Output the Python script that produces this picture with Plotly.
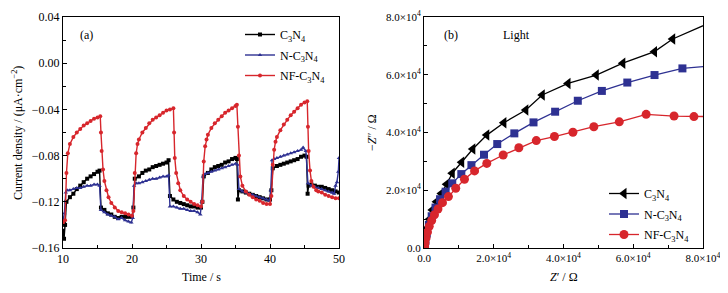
import plotly.graph_objects as go

# ---------------- Panel (a): transient photocurrent ----------------
t_c3n4 = [10.0, 10.15, 10.3, 10.5, 11.0, 11.5, 12.0, 12.5, 13.0, 13.5, 14.0, 14.5, 15.0, 15.3,
          15.5, 16.0, 16.5, 17.0, 17.5, 18.0, 18.5, 19.0, 19.5, 20.0, 20.2, 20.4,
          21.0, 21.5, 22.0, 22.5, 23.0, 23.5, 24.0, 24.5, 25.0, 25.3,
          25.5, 26.0, 26.5, 27.0, 27.5, 28.0, 28.5, 29.0, 29.5, 30.0, 30.2, 30.4,
          31.0, 31.5, 32.0, 32.5, 33.0, 33.5, 34.0, 34.5, 35.0, 35.2,
          35.35, 35.5, 36.0, 36.5, 37.0, 37.5, 38.0, 38.5, 39.0, 39.5, 40.0, 40.2, 40.4,
          41.0, 41.5, 42.0, 42.5, 43.0, 43.5, 44.0, 44.5, 45.0, 45.3,
          45.45, 45.6, 46.0, 46.5, 47.0, 47.5, 48.0, 48.5, 49.0, 49.5, 50.0]
j_c3n4 = [-0.145, -0.152, -0.140, -0.120, -0.116, -0.113, -0.109, -0.106, -0.103, -0.100, -0.098, -0.096, -0.094, -0.093,
          -0.125, -0.127, -0.130, -0.131, -0.133, -0.134, -0.133, -0.133, -0.133, -0.133, -0.125, -0.100,
          -0.098, -0.095, -0.093, -0.092, -0.090, -0.089, -0.088, -0.087, -0.086, -0.084,
          -0.115, -0.118, -0.120, -0.121, -0.122, -0.123, -0.124, -0.124, -0.125, -0.125, -0.120, -0.098,
          -0.095, -0.092, -0.090, -0.089, -0.088, -0.086, -0.085, -0.083, -0.082, -0.083,
          -0.118, -0.110, -0.111, -0.112, -0.113, -0.114, -0.115, -0.116, -0.117, -0.118, -0.118, -0.110, -0.091,
          -0.089, -0.088, -0.087, -0.086, -0.085, -0.084, -0.083, -0.081, -0.080, -0.081,
          -0.113, -0.106, -0.105, -0.106, -0.107, -0.107, -0.108, -0.109, -0.110, -0.111, -0.112]

t_nc3n4 = [10.0, 10.2, 10.4, 10.6, 11.0, 11.5, 12.0, 12.5, 13.0, 13.5, 14.0, 14.5, 15.0, 15.3,
           15.5, 16.0, 16.5, 17.0, 17.5, 18.0, 18.5, 19.0, 19.5, 19.9, 20.1, 20.3,
           20.6, 21.0, 21.5, 22.0, 22.5, 23.0, 23.5, 24.0, 24.5, 25.0, 25.3,
           25.5, 26.0, 26.5, 27.0, 27.5, 28.0, 28.5, 29.0, 29.5, 29.9, 30.1, 30.3,
           30.6, 31.0, 31.5, 32.0, 32.5, 33.0, 33.5, 34.0, 34.5, 35.0, 35.3,
           35.5, 36.0, 36.5, 37.0, 37.5, 38.0, 38.5, 39.0, 39.5, 39.9, 40.1, 40.3,
           40.6, 41.0, 41.5, 42.0, 42.5, 43.0, 43.5, 44.0, 44.5, 44.8, 45.2,
           45.5, 46.0, 46.5, 47.0, 47.5, 48.0, 48.5, 49.0, 49.3, 49.5, 49.7, 49.9, 50.0]
j_nc3n4 = [-0.136, -0.130, -0.112, -0.110, -0.110, -0.109, -0.108, -0.108, -0.107, -0.106, -0.106, -0.105, -0.105, -0.106,
           -0.127, -0.129, -0.131, -0.132, -0.133, -0.135, -0.134, -0.136, -0.137, -0.138, -0.134, -0.106,
           -0.104, -0.104, -0.103, -0.102, -0.101, -0.100, -0.100, -0.099, -0.098, -0.098, -0.097,
           -0.124, -0.124, -0.125, -0.126, -0.126, -0.127, -0.128, -0.128, -0.129, -0.131, -0.120, -0.098,
           -0.096, -0.095, -0.094, -0.093, -0.092, -0.091, -0.090, -0.089, -0.088, -0.087, -0.088,
           -0.109, -0.111, -0.112, -0.113, -0.114, -0.115, -0.116, -0.117, -0.118, -0.119, -0.110, -0.084,
           -0.083, -0.082, -0.081, -0.080, -0.079, -0.078, -0.077, -0.076, -0.075, -0.073, -0.076,
           -0.104, -0.106, -0.107, -0.108, -0.109, -0.110, -0.111, -0.112, -0.113, -0.106, -0.103, -0.094, -0.082]

t_nfc3n4 = [10.0, 10.3, 10.5, 10.7, 11.0, 11.5, 12.0, 12.5, 13.0, 13.5, 14.0, 14.5, 15.0, 15.4,
            15.5, 15.6, 15.8, 16.0, 16.3, 16.6, 17.0, 17.5, 18.0, 18.5, 19.0, 19.5, 20.0, 20.2, 20.4,
            20.6, 20.8, 21.0, 21.5, 22.0, 22.5, 23.0, 23.5, 24.0, 24.5, 25.0, 25.5, 26.0,
            26.1, 26.2, 26.4, 26.7, 27.0, 27.5, 28.0, 28.5, 29.0, 29.5, 30.0, 30.2, 30.4,
            30.6, 30.8, 31.0, 31.5, 32.0, 32.5, 33.0, 33.5, 34.0, 34.5, 35.0, 35.2,
            35.35, 35.5, 35.7, 36.0, 36.5, 37.0, 37.5, 38.0, 38.5, 39.0, 39.5, 40.0, 40.2, 40.4,
            40.6, 40.8, 41.0, 41.5, 42.0, 42.5, 43.0, 43.5, 44.0, 44.5, 45.0, 45.4,
            45.5, 45.6, 45.8, 46.0, 46.3, 46.7, 47.0, 47.5, 48.0, 48.5, 49.0, 49.5, 50.0]
j_nfc3n4 = [-0.138, -0.136, -0.095, -0.078, -0.070, -0.064, -0.060, -0.057, -0.054, -0.052, -0.050, -0.048, -0.047, -0.046,
            -0.060, -0.076, -0.092, -0.102, -0.110, -0.116, -0.121, -0.125, -0.128, -0.129, -0.130, -0.131, -0.132, -0.128, -0.095,
            -0.078, -0.070, -0.066, -0.060, -0.056, -0.052, -0.049, -0.047, -0.045, -0.043, -0.041, -0.040, -0.039,
            -0.060, -0.082, -0.095, -0.104, -0.110, -0.115, -0.118, -0.120, -0.122, -0.123, -0.124, -0.120, -0.085,
            -0.072, -0.066, -0.062, -0.056, -0.052, -0.049, -0.046, -0.043, -0.041, -0.039, -0.037, -0.036,
            -0.055, -0.080, -0.098, -0.106, -0.111, -0.114, -0.116, -0.118, -0.119, -0.121, -0.122, -0.122, -0.115, -0.088,
            -0.075, -0.068, -0.064, -0.058, -0.053, -0.049, -0.045, -0.042, -0.039, -0.036, -0.034, -0.033,
            -0.055, -0.076, -0.093, -0.102, -0.107, -0.110, -0.111, -0.112, -0.114, -0.115, -0.116, -0.117, -0.117]

# ---------------- Panel (b): Nyquist plots under light ----------------
zre_c3n4 = [200, 300, 600, 1000, 1600, 2400, 3600, 5000, 6500, 8100, 10800, 14000, 18000, 22900,
            29200, 33900, 41300, 49400, 57000, 66100, 71300, 82000]
zim_c3n4 = [0, 1500, 4000, 7000, 10000, 13200, 16000, 18900, 22100, 25900, 29700, 34300, 39100, 43400,
            47800, 53000, 57000, 59900, 64000, 68000, 72400, 78000]

zre_nc3n4 = [300, 400, 800, 1400, 2200, 3300, 4600, 6200, 8100, 10700, 13600, 17200, 21000, 25900,
             31400, 37600, 44100, 51000, 58300, 66100, 74100, 82000]
zim_nc3n4 = [0, 2500, 5000, 8000, 11000, 14000, 16900, 19500, 22400, 25600, 28700, 32300, 36000, 39700,
             43500, 47200, 51000, 54400, 57300, 59900, 62200, 63000]

zre_nfc3n4 = [100, 150, 300, 600, 1000, 1500, 2200, 3000, 4000, 5300, 7000, 9100, 11600, 14500, 18000,
              22700, 27200, 32200, 37400, 42700, 48700, 56000, 63700, 71700, 77400, 82000]
zim_nfc3n4 = [0, 500, 1800, 3500, 5500, 7500, 9500, 11500, 13500, 15700, 17800, 20700, 23800, 26700, 29300,
              32200, 34700, 37200, 38600, 40100, 42000, 43700, 46300, 45700, 45500, 45500]

names = ["C<sub>3</sub>N<sub>4</sub>", "N-C<sub>3</sub>N<sub>4</sub>", "NF-C<sub>3</sub>N<sub>4</sub>"]
colors = ["#000000", "#2e3192", "#d7262c"]

x_ticks_a = [10, 20, 30, 40, 50]
y_ticks_a = [-0.16, -0.12, -0.08, -0.04, 0.00, 0.04]
y_ticklabels_a = ["\u22120.16", "\u22120.12", "\u22120.08", "\u22120.04", "0.00", "0.04"]
ticks_b = [0, 20000, 40000, 60000, 80000]
ticklabels_b = ["0.0", "2.0×10<sup>4</sup>", "4.0×10<sup>4</sup>", "6.0×10<sup>4</sup>", "8.0×10<sup>4</sup>"]

FONT = "Liberation Serif"
OFF = 8            # page body margin
W, H = 728 - OFF, 293 - OFF

fig = go.Figure()

sym_a = ["square", "triangle-up", "circle"]
for k, (t, j, nm, c, s) in enumerate(zip([t_c3n4, t_nc3n4, t_nfc3n4], [j_c3n4, j_nc3n4, j_nfc3n4],
                                         names, colors, sym_a)):
    fig.add_trace(go.Scatter(x=t, y=j, name=nm, mode="lines+markers", legendgroup=f"a{k}",
                             line=dict(color=c, width=1.4), marker=dict(color=c, size=4, symbol=s),
                             xaxis="x", yaxis="y", legend="legend"))

sym_b = ["triangle-left", "square", "circle"]
sz_b = [10, 8, 9]
for k, (zr, zi, nm, c, s, z) in enumerate(zip([zre_c3n4, zre_nc3n4, zre_nfc3n4], [zim_c3n4, zim_nc3n4, zim_nfc3n4],
                                              names, colors, sym_b, sz_b)):
    fig.add_trace(go.Scatter(x=zr, y=zi, name=nm, mode="lines+markers", legendgroup=f"b{k}",
                             line=dict(color=c, width=1.3), marker=dict(color=c, size=z, symbol=s),
                             cliponaxis=True, xaxis="x2", yaxis="y2", legend="legend2"))

def px_x(p):
    return (p - OFF) / W

def px_y(p):
    return 1 - (p - OFF) / H

axis_common = dict(showline=True, linecolor="black", linewidth=1, mirror=True, ticks="inside",
                   ticklen=4, tickcolor="black", showgrid=False, zeroline=False, automargin=False,
                   tickfont=dict(family=FONT, size=12, color="black"))
axis_b = {**axis_common, "tickfont": dict(family=FONT, size=11, color="black")}

fig.update_layout(
    width=W, height=H, margin=dict(l=0, r=0, t=0, b=0),
    paper_bgcolor="white", plot_bgcolor="white",
    font=dict(family=FONT, size=12, color="black"),
    xaxis=dict(domain=[px_x(63), px_x(339)], range=[10, 50], tickvals=x_ticks_a, anchor="y",
               minor=dict(ticks="inside", ticklen=3, tickvals=[15, 25, 35, 45], tickcolor="black"),
               **axis_common),
    yaxis=dict(domain=[px_y(248), px_y(17)], range=[-0.16, 0.04], tickvals=y_ticks_a,
               ticktext=y_ticklabels_a, anchor="x",
               minor=dict(ticks="inside", ticklen=3, tickvals=[-0.14, -0.10, -0.06, -0.02, 0.02], tickcolor="black"),
               **axis_common),
    xaxis2=dict(domain=[px_x(424), px_x(703)], range=[0, 80000], tickvals=ticks_b, ticktext=ticklabels_b,
                anchor="y2",
                minor=dict(ticks="inside", ticklen=3, tickvals=[10000, 30000, 50000, 70000], tickcolor="black"),
                **axis_b),
    yaxis2=dict(domain=[px_y(248), px_y(17)], range=[0, 80000], tickvals=ticks_b, ticktext=ticklabels_b,
                anchor="x2",
                minor=dict(ticks="inside", ticklen=3, tickvals=[10000, 30000, 50000, 70000], tickcolor="black"),
                **axis_b),
    legend=dict(x=px_x(240), y=px_y(20), xanchor="left", yanchor="top", bgcolor="rgba(0,0,0,0)",
                font=dict(family=FONT, size=12), tracegroupgap=1.5, itemwidth=30),
    legend2=dict(x=px_x(604), y=px_y(179), xanchor="left", yanchor="top", bgcolor="rgba(0,0,0,0)",
                 font=dict(family=FONT, size=12), tracegroupgap=1.5, itemwidth=30),
    showlegend=True,
)

annots = [
    dict(text="(a)", x=px_x(86), y=px_y(35)),
    dict(text="(b)", x=px_x(451), y=px_y(35)),
    dict(text="Light", x=px_x(516), y=px_y(35)),
    dict(text="Time / s", x=px_x(201), y=px_y(277)),
    dict(text="<i>Z</i>′ / Ω", x=px_x(564), y=px_y(277)),
    dict(text="Current density / (μA·cm<sup>−2</sup>)", x=px_x(17), y=px_y(133), textangle=-90),
    dict(text="−<i>Z</i>″ / Ω", x=px_x(372), y=px_y(133), textangle=-90),
]
for a in annots:
    fig.add_annotation(xref="paper", yref="paper", showarrow=False, xanchor="center", yanchor="middle",
                       font=dict(family=FONT, size=12, color="black"), **a)

fig.write_html("out.html")
